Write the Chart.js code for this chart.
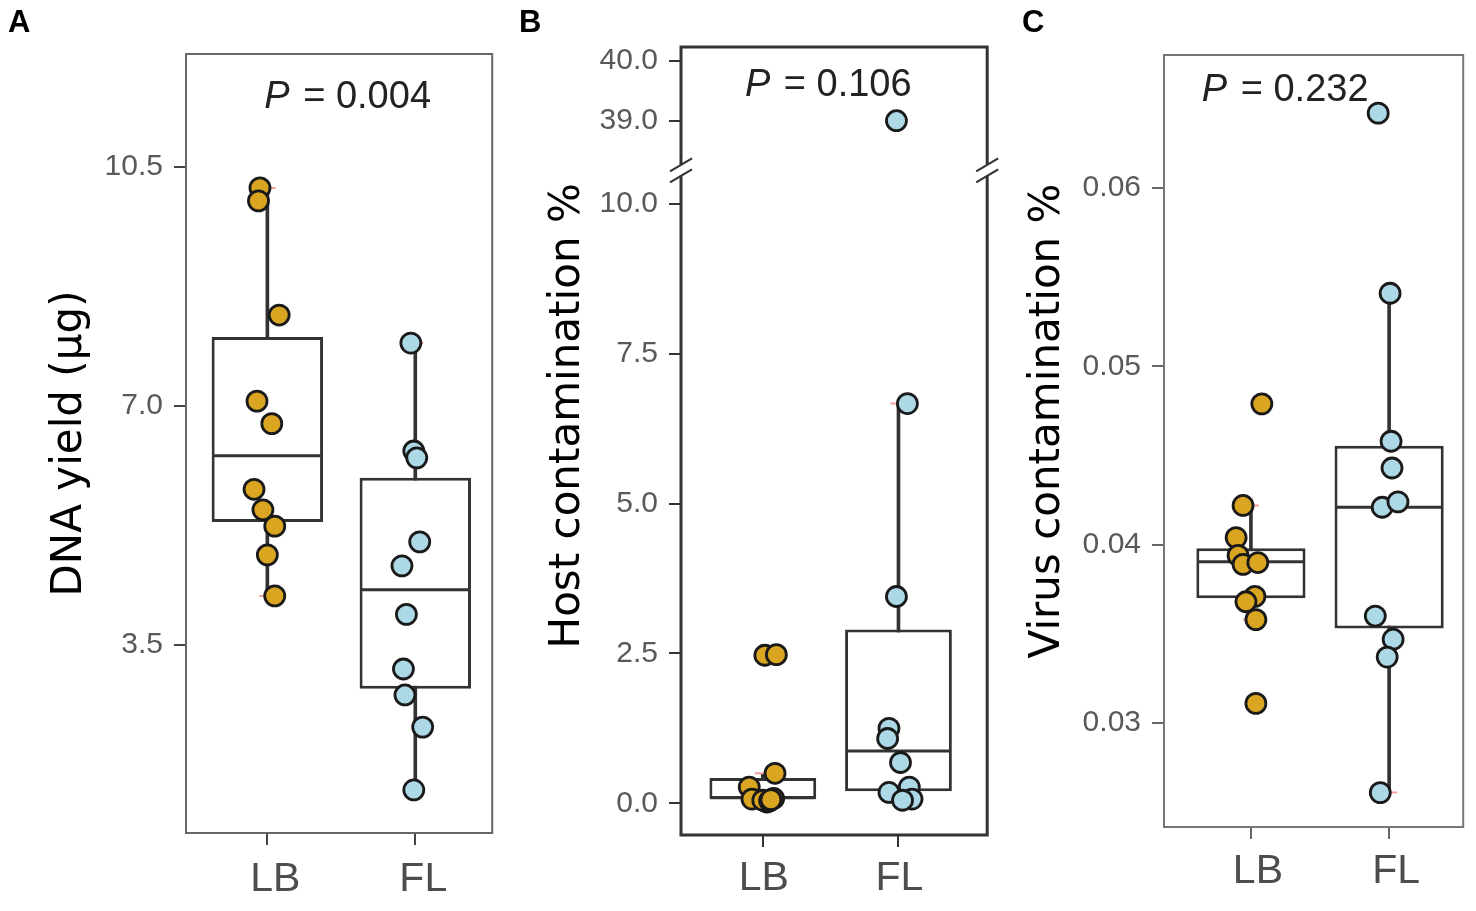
<!DOCTYPE html>
<html>
<head>
<meta charset="utf-8">
<script src="https://cdn.jsdelivr.net/npm/chart.js@4/dist/chart.umd.min.js"></script>
<style>
  html, body { margin: 0; padding: 0; background: #ffffff; width: 1476px; height: 911px; overflow: hidden; }
  canvas { position: absolute; top: 0; }
</style>
</head>
<body>
<canvas id="cA" width="505" height="911" style="left:0px"></canvas>
<canvas id="cB" width="495" height="911" style="left:505px"></canvas>
<canvas id="cC" width="476" height="911" style="left:1000px"></canvas>
<script>
// ---------------- data ----------------
const categories = ['LB', 'FL'];
const panelLetters = ['A', 'B', 'C'];
const pValues = ['0.004', '0.106', '0.232'];

// Panel A: DNA yield (µg)
const dnaTicks = [3.5, 7.0, 10.5];
const dnaLB = [10.19, 10.00, 8.33, 7.07, 6.74, 5.78, 5.48, 5.24, 4.82, 4.22];
const dnaLBJitter = [-0.05, -0.06, 0.08, -0.07, 0.03, -0.09, -0.03, 0.05, 0.00, 0.05];
const dnaFL = [7.92, 6.34, 6.24, 5.01, 4.66, 3.95, 3.15, 2.77, 2.30, 1.38];
const dnaFLJitter = [-0.03, -0.01, 0.01, 0.03, -0.09, -0.06, -0.08, -0.07, 0.05, -0.01];
// box stats: [lower whisker, Q1, median, Q3, upper whisker]
const dnaBoxLB = [4.22, 5.30, 6.27, 8.01, 10.19];
const dnaBoxFL = [1.38, 2.86, 4.31, 5.95, 7.92];

// Panel B: Host contamination % (broken axis)
const hostTicksLow = [0.0, 2.5, 5.0, 7.5, 10.0];
const hostTicksHigh = [39.0, 40.0];
const hostRangeLow = [-0.53, 10.57];
const hostRangeHigh = [38.18, 40.23];
const hostLB = [2.47, 2.48, 0.50, 0.27, 0.07, 0.08, 0.02, 0.05, 0.04, 0.06];
const hostLBJitter = [0.015, 0.10, 0.09, -0.10, -0.08, 0.08, 0.03, 0.00, 0.05, 0.06];
const hostFL = [39.0, 6.67, 3.45, 1.25, 1.08, 0.68, 0.18, 0.27, 0.07, 0.05];
const hostFLJitter = [-0.015, 0.066, -0.015, -0.07, -0.08, 0.015, -0.07, 0.08, 0.10, 0.03];
const hostBoxLB = [0.02, 0.07, 0.09, 0.42, 0.50];
const hostBoxFL = [0.05, 0.20, 0.87, 2.90, 6.67];

// Panel C: Virus contamination %
const virusTicks = [0.03, 0.04, 0.05, 0.06];
const virusLB = [0.0479, 0.0422, 0.0404, 0.0394, 0.0389, 0.0390, 0.0371, 0.0368, 0.0358, 0.0311];
const virusLBJitter = [0.079, -0.057, -0.107, -0.093, -0.057, 0.05, 0.029, -0.036, 0.036, 0.036];
const virusFL = [0.0642, 0.0541, 0.0458, 0.0443, 0.0421, 0.0424, 0.0360, 0.0347, 0.0337, 0.0261];
const virusFLJitter = [-0.079, 0.007, 0.014, 0.021, -0.05, 0.064, -0.10, 0.029, -0.014, -0.064];
const virusBoxLB = [0.0358, 0.0370, 0.03905, 0.0398, 0.0422];
const virusBoxFL = [0.0261, 0.0353, 0.0421, 0.04555, 0.0541];

// ---------------- styling ----------------
const GOLD = '#DAA520';
const BLUE = '#ADD8E6';
const SANS = "'Liberation Sans', Arial, sans-serif";
const TITLE_FONT = "'DejaVu Sans', sans-serif";

function halfBoxPx(chart, pct) {
  const s = chart.scales.x;
  return Math.abs(s.getPixelForValue(1 + pct / 2) - s.getPixelForValue(1));
}

function boxDatasets(boxes, pct, yAxisID, lineColor) {
  return [
    { type: 'bar', label: 'whisker', yAxisID,
      data: boxes.map((b, i) => ({ x: i + 1, y: [b[0], b[4]] })),
      backgroundColor: lineColor, barThickness: 3, grouped: false, order: 5 },
    { type: 'bar', label: 'box', yAxisID,
      data: boxes.map((b, i) => ({ x: i + 1, y: [b[1], b[3]] })),
      backgroundColor: '#ffffff', borderColor: lineColor, borderWidth: 3, borderSkipped: false,
      categoryPercentage: 1, barPercentage: pct, grouped: false, order: 4 },
    { type: 'scatter', label: 'median', yAxisID,
      data: boxes.map((b, i) => ({ x: i + 1, y: b[2] })),
      pointStyle: 'line', pointBorderColor: lineColor, pointBorderWidth: 3,
      pointRadius: ctx => halfBoxPx(ctx.chart, pct) - 1, order: 3 },
    { type: 'scatter', label: 'caps', yAxisID,
      data: boxes.flatMap((b, i) => [{ x: i + 1, y: b[0] }, { x: i + 1, y: b[4] }]),
      pointStyle: 'line', pointBorderColor: '#f4a0a0', pointBorderWidth: 2,
      pointRadius: 8, order: 2 }
  ];
}

function pointDataset(values, jitter, catIndex, color, yAxisID, filter) {
  const data = [];
  values.forEach((v, i) => { if (!filter || filter(v)) data.push({ x: catIndex + 1 + jitter[i], y: v }); });
  return { type: 'scatter', label: categories[catIndex], yAxisID, data,
    backgroundColor: color, borderColor: '#1a1a1a', borderWidth: 2.8,
    pointRadius: 10, order: 1 };
}

function xScale(min, max, h, tickColor, labelOffset, pad) {
  return {
    type: 'linear', min, max, offset: false, bounds: 'data',
    afterBuildTicks: s => { s.ticks = categories.map((c, i) => ({ value: i + 1 })); },
    ticks: { callback: v => categories[v - 1], font: { family: SANS, size: 41 }, color: '#4d4d4d',
      padding: pad, autoSkip: false, maxRotation: 0, labelOffset },
    grid: { offset: false, drawOnChartArea: false, drawTicks: true, tickLength: 12, color: tickColor, lineWidth: 2 },
    border: { display: false },
    afterFit: s => { s.height = h; }
  };
}

function yScale(min, max, ticks, dec, w, tickColor, title) {
  const o = {
    type: 'linear', position: 'left', min, max, bounds: 'data',
    afterBuildTicks: s => { s.ticks = ticks.map(v => ({ value: v })); },
    ticks: { callback: v => Number(v).toFixed(dec), font: { family: SANS, size: 30 }, color: '#595959', padding: 11 },
    grid: { drawOnChartArea: false, drawTicks: true, tickLength: 12, color: tickColor, lineWidth: 2 },
    border: { display: false },
    afterFit: s => { s.width = w; }
  };
  if (title) {
    o.title = { display: true, text: title.text, align: title.align || 'center', color: '#000000',
      font: { family: TITLE_FONT, size: 42 }, padding: { top: title.pad, bottom: 0 } };
  }
  return o;
}

const decor = {
  id: 'decor',
  beforeDatasetsDraw(chart, args, o) {
    const { ctx, chartArea: a } = chart;
    ctx.save();
    ctx.strokeStyle = o.frameColor;
    ctx.lineWidth = o.frameWidth;
    ctx.lineCap = 'butt';
    if (!o.breakAxis) {
      ctx.strokeRect(a.left, a.top, a.right - a.left, a.bottom - a.top);
    } else {
      const yb = chart.scales[o.breakAxis].bottom;
      const g1 = yb - 5, g2 = yb + 6;
      ctx.beginPath();
      ctx.moveTo(a.left, g1); ctx.lineTo(a.left, a.top); ctx.lineTo(a.right, a.top); ctx.lineTo(a.right, g1);
      ctx.moveTo(a.left, g2); ctx.lineTo(a.left, a.bottom); ctx.lineTo(a.right, a.bottom); ctx.lineTo(a.right, g2);
      ctx.stroke();
      ctx.lineWidth = 2.2;
      [a.left, a.right].forEach(x => {
        [g1, g2].forEach(y => {
          ctx.beginPath();
          ctx.moveTo(x - 11, y + 6.5);
          ctx.lineTo(x + 11, y - 6.5);
          ctx.stroke();
        });
      });
    }
    ctx.restore();
  },
  afterDraw(chart, args, o) {
    const { ctx, chartArea: a } = chart;
    ctx.save();
    // panel letter
    ctx.fillStyle = '#000000';
    ctx.font = 'bold 31px ' + SANS;
    ctx.textBaseline = 'alphabetic';
    ctx.textAlign = 'left';
    ctx.fillText(o.letter, o.letterX, 32);
    // P value text
    const f1 = 'italic 38px ' + SANS, f2 = '38px ' + SANS;
    const rest = ' = ' + o.p;
    ctx.font = f1; const w1 = ctx.measureText('P').width;
    ctx.font = f2; const w2 = ctx.measureText(rest).width;
    const cx = a.left + o.pFrac * (a.right - a.left);
    const x0 = cx - (w1 + w2) / 2;
    const yb = a.top + o.pBase;
    ctx.fillStyle = '#222222';
    ctx.font = f1; ctx.fillText('P', x0, yb);
    ctx.font = f2; ctx.fillText(rest, x0 + w1 + 3, yb);
    ctx.restore();
  }
};

function baseOptions(layoutPad, scales, decorOpts) {
  return {
    responsive: false, animation: false, events: [],
    layout: { padding: layoutPad },
    plugins: { legend: { display: false }, tooltip: { enabled: false }, decor: decorOpts },
    scales
  };
}

// ---------------- Panel A ----------------
new Chart(document.getElementById('cA'), {
  type: 'bar',
  data: { datasets: [
    ...boxDatasets([dnaBoxLB, dnaBoxFL], 0.753, 'y', '#333333'),
    pointDataset(dnaLB, dnaLBJitter, 0, GOLD, 'y'),
    pointDataset(dnaFL, dnaFLJitter, 1, BLUE, 'y')
  ] },
  options: baseOptions({ top: 54, right: 11, bottom: 0, left: 0 }, {
    x: xScale(0.45, 2.52, 78, '#444444', 8, 10),
    y: yScale(0.75, 12.15, dnaTicks, 1, 186, '#444444', { text: 'DNA yield (µg)', pad: 45 })
  }, { frameColor: '#666666', frameWidth: 2, letter: panelLetters[0], letterX: 8, p: pValues[0], pFrac: 0.523, pBase: 54 }),
  plugins: [decor]
});

// ---------------- Panel B ----------------
const highFilter = v => v > hostRangeLow[1];
const lowFilter = v => v <= hostRangeLow[1];
new Chart(document.getElementById('cB'), {
  type: 'bar',
  data: { datasets: [
    ...boxDatasets([hostBoxLB, hostBoxFL], 0.787, 'y', '#333333'),
    pointDataset(hostLB, hostLBJitter, 0, GOLD, 'y', lowFilter),
    pointDataset(hostFL, hostFLJitter, 1, BLUE, 'y', lowFilter),
    pointDataset(hostFL, hostFLJitter, 1, BLUE, 'yTop', highFilter)
  ] },
  options: baseOptions({ top: 47, right: 12, bottom: 0, left: 0 }, {
    x: xScale(0.397, 2.654, 76, '#333333', 1, 7),
    y: Object.assign(
      yScale(hostRangeLow[0], hostRangeLow[1], hostTicksLow, 1, 176, '#333333',
        { text: 'Host contamination % ', align: 'end', pad: 38 }),
      { stack: 'host', stackWeight: hostRangeLow[1] - hostRangeLow[0] }),
    yTop: Object.assign(
      yScale(hostRangeHigh[0], hostRangeHigh[1], hostTicksHigh, 1, 176, '#333333', null),
      { stack: 'host', stackWeight: hostRangeHigh[1] - hostRangeHigh[0] })
  }, { frameColor: '#333333', frameWidth: 3, breakAxis: 'yTop', letter: panelLetters[1], letterX: 14, p: pValues[1], pFrac: 0.476, pBase: 49 }),
  plugins: [decor]
});

// ---------------- Panel C ----------------
new Chart(document.getElementById('cC'), {
  type: 'bar',
  data: { datasets: [
    ...boxDatasets([virusBoxLB, virusBoxFL], 0.79, 'y', '#333333'),
    pointDataset(virusLB, virusLBJitter, 0, GOLD, 'y'),
    pointDataset(virusFL, virusFLJitter, 1, BLUE, 'y')
  ] },
  options: baseOptions({ top: 55, right: 9, bottom: 0, left: 0 }, {
    x: xScale(0.371, 2.536, 84, '#666666', 7, 8),
    y: yScale(0.02417, 0.06746, virusTicks, 2, 164, '#666666', { text: '   Virus contamination %', pad: 23 })
  }, { frameColor: '#777777', frameWidth: 2, letter: panelLetters[2], letterX: 22, p: pValues[2], pFrac: 0.40, pBase: 46 }),
  plugins: [decor]
});
</script>
</body>
</html>
